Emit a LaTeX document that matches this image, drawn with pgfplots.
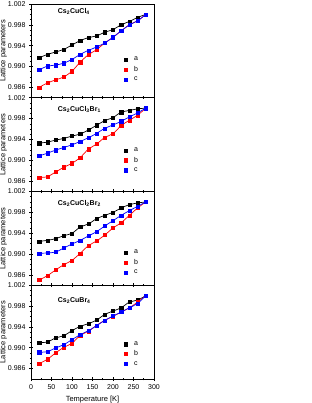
\documentclass[border=0pt]{standalone}
\usepackage{fontspec}
\setmainfont{Liberation Sans}
\usepackage{pgfplots}
\pgfplotsset{compat=1.18}
\usepackage{pgfplotstable}

\pgfplotstableread{
T a b c
20 0.99168 0.98600 0.98936
40 0.99232 0.98684 0.99007
60 0.99278 0.98742 0.99026
80 0.99329 0.98800 0.99065
100 0.99413 0.98910 0.99136
120 0.99497 0.99084 0.99232
140 0.99555 0.99226 0.99310
160 0.99587 0.99323 0.99374
180 0.99658 0.99452 0.99452
200 0.99710 0.99561 0.99561
220 0.99800 0.99684 0.99684
240 0.99865 0.99800 0.99800
260 0.99942 0.99877 0.99877
280 1.00000 1.00000 1.00000
}\tabA
\pgfplotstableread{
T a b c
20 0.99329 0.98671 0.99084
40 0.99348 0.98684 0.99136
60 0.99387 0.98774 0.99194
80 0.99419 0.98865 0.99245
100 0.99465 0.98942 0.99297
120 0.99503 0.99052 0.99361
140 0.99581 0.99213 0.99432
160 0.99671 0.99310 0.99516
180 0.99761 0.99439 0.99613
200 0.99819 0.99510 0.99677
220 0.99923 0.99665 0.99748
240 0.99955 0.99768 0.99832
260 0.99987 0.99865 0.99910
280 1.00000 1.00000 1.00000
}\tabB
\pgfplotstableread{
T a b c
20 0.99243 0.98501 0.99013
40 0.99262 0.98584 0.99020
60 0.99294 0.98693 0.99038
80 0.99352 0.98795 0.99115
100 0.99397 0.98878 0.99192
120 0.99518 0.99013 0.99262
140 0.99576 0.99160 0.99346
160 0.99678 0.99250 0.99429
180 0.99742 0.99365 0.99538
200 0.99800 0.99499 0.99640
220 0.99883 0.99602 0.99742
240 0.99947 0.99742 0.99832
260 0.99979 0.99883 0.99915
280 1.00000 1.00000 1.00000
}\tabC
\pgfplotstableread{
T a b c
20 0.99098 0.98696 0.98913
40 0.99111 0.98779 0.98926
60 0.99188 0.98900 0.98996
80 0.99232 0.99009 0.99060
100 0.99328 0.99085 0.99156
120 0.99411 0.99239 0.99251
140 0.99462 0.99315 0.99328
160 0.99532 0.99430 0.99424
180 0.99640 0.99526 0.99526
200 0.99704 0.99602 0.99609
220 0.99768 0.99685 0.99685
240 0.99877 0.99768 0.99768
260 0.99915 0.99877 0.99851
280 1.00000 1.00000 1.00000
}\tabD

\newcommand{\fsz}{\fontsize{7}{8}\selectfont}
\newcommand{\lsz}{\fontsize{7}{8}\selectfont}
\newcommand{\ysz}{\fontsize{7.5}{8.5}\selectfont}
\tikzset{plab/.style={anchor=west, font=\fsz, inner sep=0pt}}
\pgfplotsset{
  panel/.style={
    scale only axis, width=123pt, height=93.75pt,
    xmin=0, xmax=300, ymin=0.984, ymax=1.002,
    xtick={0,50,...,300}, minor x tick num=1,
    ytick={0.986,0.990,0.994,0.998,1.002}, minor y tick num=3,
    yticklabel style={/pgf/number format/.cd,fixed,fixed zerofill,precision=3},
    /pgf/number format/assume math mode=true,
    tick label style={font=\fsz},
    label style={font=\ysz},
    tick pos=left, tick align=center,
    major tick length=4pt, minor tick length=2.5pt,
    axis line style={line width=0.6pt},
    every tick/.style={line width=0.5pt, black},
    ylabel={Lattice parameters},
    ylabel style={at={(axis description cs:-0.225,0.5)}, anchor=center},
    legend style={draw=none, fill=none, at={(axis description cs:0.74,0.48)},
      anchor=north west, font=\lsz, row sep=0pt, column sep=5pt},
    legend cell align=left,
    mark size=1.6pt,
  },
  ln/.style={#1, line width=0.7pt, smooth, forget plot},
  mk/.style={#1, only marks, mark=square*, mark options={fill=#1, draw=#1}},
}
\newcommand{\series}[1]{%
  \addplot[ln=black] table[x=T,y=a]{#1};
  \addplot[ln=red] table[x=T,y=b]{#1};
  \addplot[ln=blue] table[x=T,y=c]{#1};
  \addplot[mk=black] table[x=T,y=a]{#1};
  \addplot[mk=red] table[x=T,y=b]{#1};
  \addplot[mk=blue] table[x=T,y=c]{#1};
  \legend{a,b,c}
}

\begin{document}
\begin{tikzpicture}
\path[use as bounding box] (0,0) rectangle (312pt,403pt);

\begin{axis}[panel, at={(31pt,305.25pt)}, xticklabels={},
  legend style={at={(axis description cs:0.73,0.48)}}]
\series{\tabA}
\node[anchor=west, font=\bfseries\lsz] at (axis description cs:0.19,0.92) {Cs\textsubscript{2}CuCl\textsubscript{4}};
\node[plab] at (axis description cs:-0.248,0.045) {a)};
\end{axis}

\begin{axis}[panel, at={(31pt,211.5pt)}, xticklabels={},
  legend style={at={(axis description cs:0.73,0.512)}}]
\series{\tabB}
\node[anchor=west, font=\bfseries\lsz] at (axis description cs:0.19,0.87) {Cs\textsubscript{2}CuCl\textsubscript{3}Br\textsubscript{1}};
\node[plab] at (axis description cs:-0.248,0.045) {b)};
\end{axis}

\begin{axis}[panel, at={(31pt,117.75pt)}, xticklabels={},
  legend style={at={(axis description cs:0.73,0.42)}}]
\series{\tabC}
\node[anchor=west, font=\bfseries\lsz] at (axis description cs:0.19,0.87) {Cs\textsubscript{2}CuCl\textsubscript{2}Br\textsubscript{2}};
\node[plab] at (axis description cs:-0.248,0.045) {c)};
\end{axis}

\begin{axis}[panel, at={(31pt,24pt)}, xlabel={Temperature [K]},
  legend style={at={(axis description cs:0.73,0.445)}}]
\series{\tabD}
\node[anchor=west, font=\bfseries\lsz] at (axis description cs:0.19,0.84) {Cs\textsubscript{2}CuBr\textsubscript{4}};
\node[plab] at (axis description cs:-0.248,0.045) {d)};
\end{axis}
\end{tikzpicture}
\end{document}
